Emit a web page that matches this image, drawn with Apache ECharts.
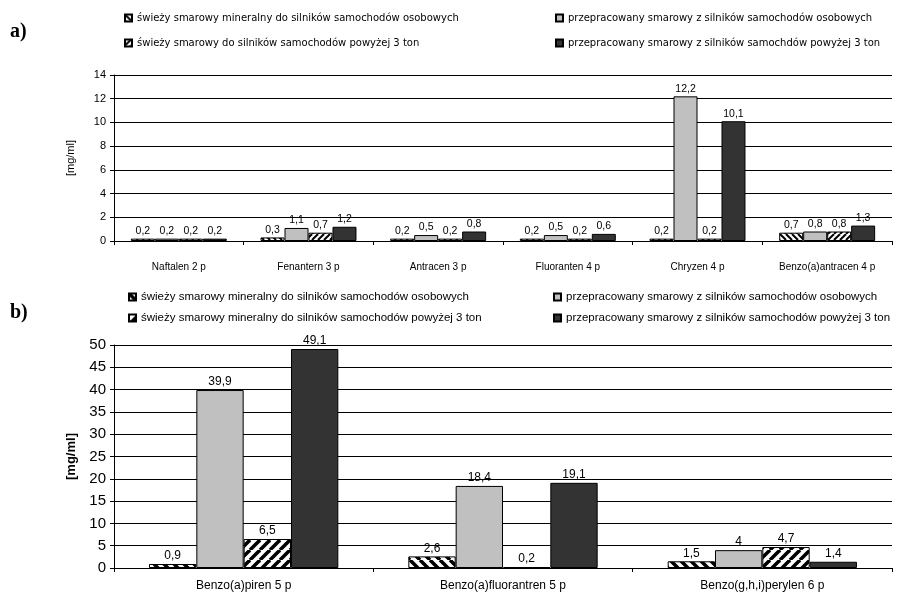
<!DOCTYPE html>
<html>
<head>
<meta charset="utf-8">
<script src="https://cdn.jsdelivr.net/npm/echarts@6/dist/echarts.min.js"></script>
<style>
html,body{margin:0;padding:0;background:#fff;width:897px;height:598px;overflow:hidden;}
#a{position:absolute;left:0;top:0;width:897px;height:280px;}
#b{position:absolute;left:0;top:280px;width:897px;height:318px;}
</style>
</head>
<body>
<div id="a"></div>
<div id="b"></div>
<script>
// ---- data: chart a ----
var catsA = ["Naftalen 2 p", "Fenantern 3 p", "Antracen 3 p", "Fluoranten 4 p", "Chryzen 4 p", "Benzo(a)antracen 4 p"];
var namesA = [
  "świeży smarowy mineralny do silników samochodów osobowych",
  "przepracowany smarowy z silników samochodów osobowych",
  "świeży smarowy do silników samochodów powyżej 3 ton",
  "przepracowany smarowy z silników samochdów powyżej 3 ton"
];
var a1 = [0.2, 0.3, 0.2, 0.2, 0.2, 0.7];
var a2 = [0.2, 1.1, 0.5, 0.5, 12.2, 0.8];
var a3 = [0.2, 0.7, 0.2, 0.2, 0.2, 0.8];
var a4 = [0.2, 1.2, 0.8, 0.6, 10.1, 1.3];
var ticksA = [0, 2, 4, 6, 8, 10, 12, 14];

// ---- data: chart b ----
var catsB = ["Benzo(a)piren 5 p", "Benzo(a)fluorantren 5 p", "Benzo(g,h,i)perylen 6 p"];
var namesB = [
  "świeży smarowy mineralny do silników samochodów osobowych",
  "przepracowany smarowy z silników samochodów osobowych",
  "świeży smarowy mineralny do silników samochodów powyżej 3 ton",
  "przepracowany smarowy z silników samochodów powyżej 3 ton"
];
var b1 = [0.9, 2.6, 1.5];
var b2 = [39.9, 18.4, 4];
var b3 = [6.5, 0.2, 4.7];
var b4 = [49.1, 19.1, 1.4];
var ticksB = [0, 5, 10, 15, 20, 25, 30, 35, 40, 45, 50];

function hatch(back, size, lw) {
  var c = document.createElement('canvas');
  c.width = size; c.height = size;
  var g = c.getContext('2d');
  g.fillStyle = '#fff'; g.fillRect(0, 0, size, size);
  g.strokeStyle = '#000'; g.lineWidth = lw;
  for (var k = -1; k <= 1; k++) {
    g.beginPath();
    if (back) { g.moveTo(k * size, 0); g.lineTo(k * size + size, size); }
    else { g.moveTo(k * size, size); g.lineTo(k * size + size, 0); }
    g.stroke();
  }
  return {image: c, repeat: 'repeat'};
}
function fmt(p) { return String(p.value).replace('.', ','); }

function makeOption(cfg) {
  var fills = [hatch(true, cfg.ps, cfg.lw), '#c0c0c0', hatch(false, cfg.ps, cfg.lw), '#333333'];
  var series = cfg.vals.map(function (v, i) {
    return {
      type: 'bar', name: cfg.names[i], data: v,
      barGap: '0%', barCategoryGap: cfg.catGap,
      itemStyle: {color: fills[i], borderColor: '#000', borderWidth: 1},
      label: {show: true, position: 'top', distance: 2, formatter: fmt, color: '#000',
        fontFamily: cfg.font, fontSize: cfg.labelSize},
      animation: false
    };
  });
  var legends = cfg.names.map(function (n, i) {
    return {
      data: [n], left: cfg.legLeft[i % 2], top: cfg.legTop[Math.floor(i / 2)],
      itemWidth: 7, itemHeight: 7, icon: 'rect', itemGap: 4, padding: 0,
      textStyle: {fontFamily: cfg.legFont, fontSize: cfg.legSize, color: '#000'},
      selectedMode: false
    };
  });
  return {
    animation: false,
    graphic: [{type: 'text', left: 10, top: cfg.letterTop,
      style: {text: cfg.letter, font: 'bold 20px "Liberation Serif", serif', fill: '#000'}}],
    legend: legends,
    grid: cfg.grid,
    xAxis: {
      type: 'category', data: cfg.cats,
      axisLine: {lineStyle: {color: '#000', width: 1}},
      axisTick: {show: true, length: 4, lineStyle: {color: '#000'}},
      axisLabel: {color: '#000', fontFamily: cfg.font, fontSize: cfg.catSize, margin: cfg.catMargin}
    },
    yAxis: {
      type: 'value', min: cfg.ticks[0], max: cfg.ticks[cfg.ticks.length - 1],
      interval: cfg.ticks[1] - cfg.ticks[0],
      name: '[mg/ml]', nameLocation: 'middle', nameGap: cfg.nameGap, nameRotate: 90,
      nameTextStyle: {color: '#000', fontFamily: cfg.font, fontSize: cfg.nameSize, fontWeight: cfg.nameWeight},
      axisLine: {show: true, lineStyle: {color: '#000', width: 1}},
      axisTick: {show: true, length: 4, lineStyle: {color: '#000'}},
      axisLabel: {color: '#000', fontFamily: cfg.font, fontSize: cfg.ySize, margin: 8},
      splitLine: {show: true, lineStyle: {color: '#000', width: 1}}
    },
    series: series
  };
}

var chartA = echarts.init(document.getElementById('a'), null, {renderer: 'canvas'});
chartA.setOption(makeOption({
  cats: catsA, names: namesA, vals: [a1, a2, a3, a4], ticks: ticksA,
  ps: 6, lw: 2, catGap: '26%', font: '"Liberation Sans", Arial, sans-serif',
  legFont: '"DejaVu Sans", sans-serif',
  labelSize: 10.5, legSize: 10, catSize: 10, ySize: 11, nameSize: 11, nameWeight: 'normal',
  catMargin: 21, nameGap: 38,
  legLeft: [124, 555], legTop: [13, 38], letter: 'a)', letterTop: 22,
  grid: {left: 114, right: 5, top: 75, height: 166}
}));

var chartB = echarts.init(document.getElementById('b'), null, {renderer: 'canvas'});
chartB.setOption(makeOption({
  cats: catsB, names: namesB, vals: [b1, b2, b3, b4], ticks: ticksB,
  ps: 10, lw: 3.5, catGap: '27%', font: '"Liberation Sans", Arial, sans-serif',
  legFont: '"Liberation Sans", Arial, sans-serif',
  labelSize: 12, legSize: 11.5, catSize: 12, ySize: 15, nameSize: 13, nameWeight: 'bold',
  catMargin: 12, nameGap: 36,
  legLeft: [128, 553], legTop: [11, 32], letter: 'b)', letterTop: 23,
  grid: {left: 114, right: 5, top: 65, height: 223}
}));
</script>
</body>
</html>
